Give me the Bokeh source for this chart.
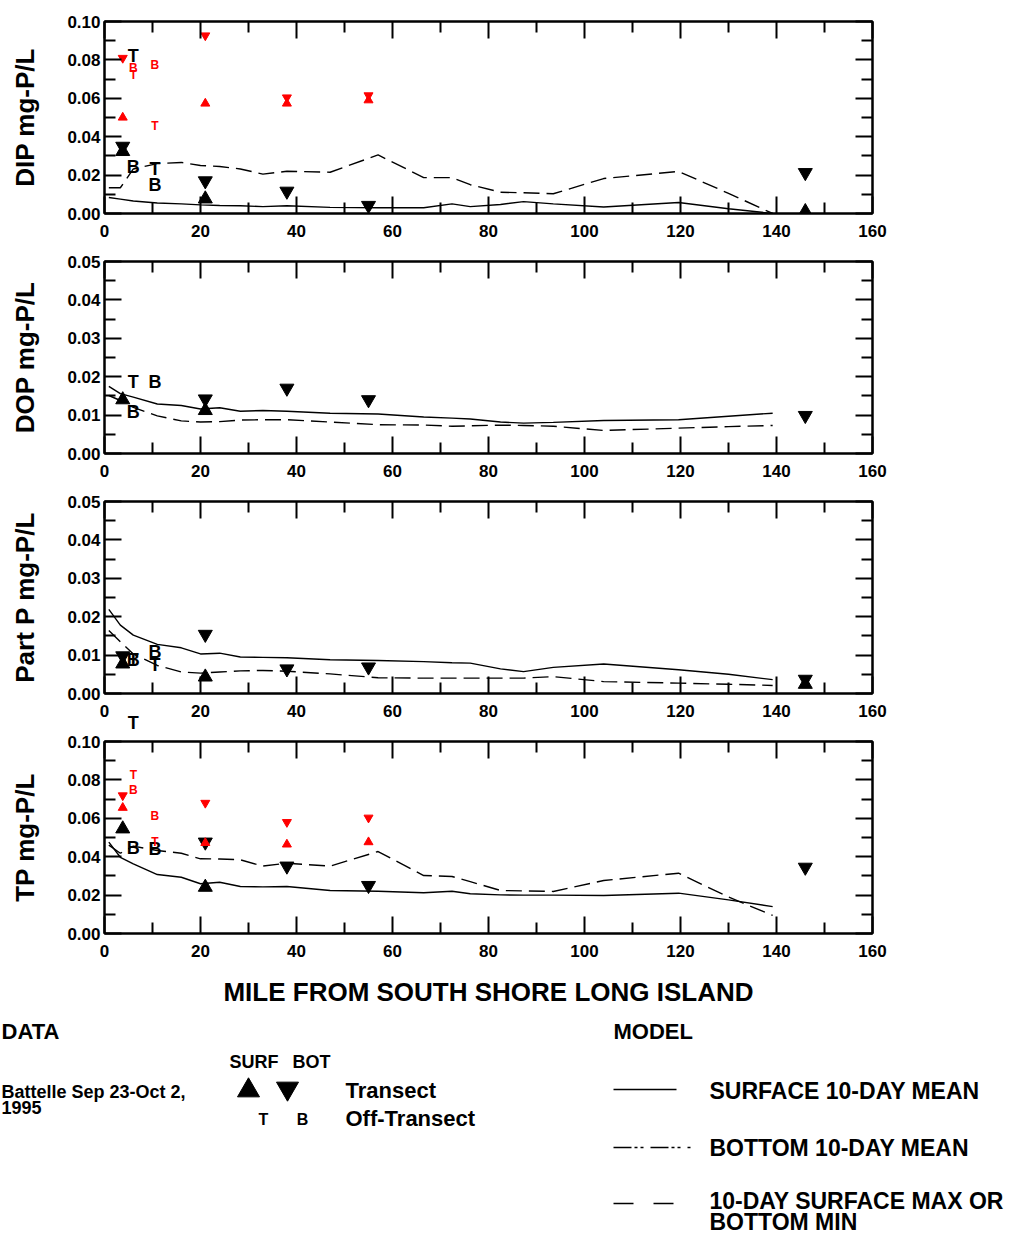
from bokeh.plotting import figure
from bokeh.models import Range1d, LinearAxis, FixedTicker, PrintfTickFormatter, ColumnDataSource, LabelSet
from bokeh.layouts import column
from bokeh.embed import file_html
from bokeh.resources import INLINE
from bokeh.core.properties import value

FONT = "Liberation Sans"

# ------------------------------------------------------------------ data
MILE_TICKS = [0, 20, 40, 60, 80, 100, 120, 140, 160]
MILE_MINOR = [10, 30, 50, 70, 90, 110, 130, 150]

MODEL_MILE = [0.9, 3.3, 6, 11, 16, 20, 24, 28.3, 33, 38, 47, 57, 66.5, 72.4, 76.2,
              82.5, 87.3, 93.5, 104, 119.6, 130, 139.2]

DIP_SURF_MEAN = [0.0083, 0.0075, 0.0065, 0.0055, 0.005, 0.0045, 0.0042, 0.004, 0.0036, 0.004, 0.0032,
                 0.003, 0.003, 0.005, 0.0036, 0.0047, 0.0062, 0.005, 0.0034, 0.0057, 0.0025, 0.0]
DIP_BOT_MEAN = [0.0134, 0.0134, 0.0232, 0.026, 0.0266, 0.025, 0.0245, 0.0232, 0.0205, 0.022, 0.0215,
                0.0305, 0.0187, 0.0187, 0.015, 0.0111, 0.0108, 0.0103, 0.0182, 0.0219, 0.0105, 0.0]
DOP_SURF_MEAN = [0.0175, 0.0156, 0.0147, 0.0129, 0.0125, 0.0116, 0.0119, 0.011, 0.0112, 0.011, 0.0105,
                 0.0103, 0.0095, 0.0092, 0.009, 0.0082, 0.0079, 0.0081, 0.0086, 0.0088, 0.0097, 0.0105]
DOP_BOT_MEAN = [0.0151, 0.0138, 0.012, 0.0098, 0.0085, 0.0082, 0.0083, 0.0087, 0.0088, 0.0088, 0.0082,
                0.0075, 0.0074, 0.0071, 0.0072, 0.0074, 0.0073, 0.0071, 0.006, 0.0066, 0.007, 0.0073]
PP_SURF_MEAN = [0.0219, 0.0178, 0.0152, 0.0128, 0.0119, 0.0103, 0.0105, 0.0095, 0.0094, 0.0093, 0.0088,
                0.0086, 0.0083, 0.008, 0.0079, 0.0064, 0.0057, 0.0068, 0.0077, 0.0062, 0.005, 0.0036]
PP_BOT_MEAN = [0.0164, 0.0135, 0.0103, 0.0073, 0.0056, 0.0053, 0.0056, 0.0059, 0.006, 0.0058, 0.0051,
               0.0041, 0.004, 0.004, 0.004, 0.004, 0.004, 0.0044, 0.0031, 0.0027, 0.0024, 0.0021]
TP_SURF_MEAN = [0.0476, 0.0397, 0.0363, 0.0307, 0.0293, 0.0259, 0.0267, 0.0245, 0.0243, 0.0245, 0.0224,
                0.022, 0.0212, 0.022, 0.0207, 0.0201, 0.02, 0.02, 0.0198, 0.021, 0.0175, 0.014]
TP_BOT_MEAN = [0.046, 0.0418, 0.0455, 0.0432, 0.0418, 0.0389, 0.0388, 0.0384, 0.0351, 0.0366, 0.0351,
               0.0427, 0.0302, 0.0297, 0.027, 0.0224, 0.0222, 0.0219, 0.0276, 0.0314, 0.019, 0.0094]

# observed, transect (black triangles) and off-transect (letters); red = second survey
DIP_UP_MILE = [3.8, 21, 146];            DIP_UP = [0.0323, 0.0076, 0.001]
DIP_DN_MILE = [3.8, 21, 38, 55, 146];    DIP_DN = [0.035, 0.017, 0.0116, 0.0042, 0.0213]
DIP_T_MILE = [6, 10.5];                  DIP_T = [0.082, 0.0234]
DIP_B_MILE = [6, 10.5];                  DIP_B = [0.024, 0.0146]
DIP_RED_MILE = [3.8, 21, 38, 55]
DIP_RED_UP = [0.050, 0.0573, 0.0573, 0.059]
DIP_RED_DN = [0.081, 0.0927, 0.0604, 0.0615]
DIP_RED_T_MILE = [6, 10.5];              DIP_RED_T = [0.072, 0.0458]
DIP_RED_B_MILE = [6, 10.5];              DIP_RED_B = [0.076, 0.0776]

DOP_UP_MILE = [3.8, 21];                 DOP_UP = [0.014, 0.0112]
DOP_DN_MILE = [21, 38, 55, 146];         DOP_DN = [0.0142, 0.017, 0.014, 0.0099]
DOP_T_MILE = [6];                        DOP_T = [0.0186]
DOP_B_MILE = [6, 10.5];                  DOP_B = [0.0108, 0.0186]

PP_UP_MILE = [3.8, 21, 146];             PP_UP = [0.0077, 0.0043, 0.0024]
PP_DN_MILE = [3.8, 21, 38, 55, 146];     PP_DN = [0.0098, 0.0154, 0.0064, 0.0069, 0.0037]
PP_T_MILE = [6, 10.5];                   PP_T = [0.0088, 0.0073]
PP_B_MILE = [6, 10.5];                   PP_B = [0.0088, 0.0108]

TP_UP_MILE = [3.8, 21];                  TP_UP = [0.0545, 0.0241]
TP_DN_MILE = [21, 38, 55, 146];          TP_DN = [0.0476, 0.0351, 0.025, 0.0345]
TP_T_MILE = [6];                         TP_T = [0.111]
TP_B_MILE = [6, 10.5];                   TP_B = [0.0444, 0.0441]
TP_RED_MILE = [3.8, 21, 38, 55]
TP_RED_UP = [0.0655, 0.0472, 0.0464, 0.0476]
TP_RED_DN = [0.0719, 0.068, 0.058, 0.0603]
TP_RED_T_MILE = [6, 10.5];               TP_RED_T = [0.0828, 0.0476]
TP_RED_B_MILE = [6, 10.5];               TP_RED_B = [0.0745, 0.061]

Y01_TICKS = [0, 0.02, 0.04, 0.06, 0.08, 0.10]
Y01_MINOR = [0.01, 0.03, 0.05, 0.07, 0.09]
Y005_TICKS = [0, 0.01, 0.02, 0.03, 0.04, 0.05]
Y005_MINOR = [0.005, 0.015, 0.025, 0.035, 0.045]

PANELS = [
    dict(label="DIP mg-P/L", ymax=0.10, ticks=Y01_TICKS, minor=Y01_MINOR,
         surf=DIP_SURF_MEAN, bot=DIP_BOT_MEAN,
         up=(DIP_UP_MILE, DIP_UP), dn=(DIP_DN_MILE, DIP_DN),
         T=(DIP_T_MILE, DIP_T), B=(DIP_B_MILE, DIP_B),
         rup=(DIP_RED_MILE, DIP_RED_UP), rdn=(DIP_RED_MILE, DIP_RED_DN),
         rT=(DIP_RED_T_MILE, DIP_RED_T), rB=(DIP_RED_B_MILE, DIP_RED_B)),
    dict(label="DOP mg-P/L", ymax=0.05, ticks=Y005_TICKS, minor=Y005_MINOR,
         surf=DOP_SURF_MEAN, bot=DOP_BOT_MEAN,
         up=(DOP_UP_MILE, DOP_UP), dn=(DOP_DN_MILE, DOP_DN),
         T=(DOP_T_MILE, DOP_T), B=(DOP_B_MILE, DOP_B)),
    dict(label="Part P mg-P/L", ymax=0.05, ticks=Y005_TICKS, minor=Y005_MINOR,
         surf=PP_SURF_MEAN, bot=PP_BOT_MEAN,
         up=(PP_UP_MILE, PP_UP), dn=(PP_DN_MILE, PP_DN),
         T=(PP_T_MILE, PP_T), B=(PP_B_MILE, PP_B)),
    dict(label="TP mg-P/L", ymax=0.10, ticks=Y01_TICKS, minor=Y01_MINOR,
         surf=TP_SURF_MEAN, bot=TP_BOT_MEAN,
         up=(TP_UP_MILE, TP_UP), dn=(TP_DN_MILE, TP_DN),
         T=(TP_T_MILE, TP_T), B=(TP_B_MILE, TP_B),
         rup=(TP_RED_MILE, TP_RED_UP), rdn=(TP_RED_MILE, TP_RED_DN),
         rT=(TP_RED_T_MILE, TP_RED_T), rB=(TP_RED_B_MILE, TP_RED_B)),
]

RED = "#ff0000"


def style_axis(ax, ticks, minor, labels=True):
    ax.ticker = FixedTicker(ticks=ticks, minor_ticks=minor)
    ax.major_tick_in = 17
    ax.major_tick_out = 0
    ax.minor_tick_in = 11
    ax.minor_tick_out = 0
    ax.major_tick_line_width = 2
    ax.minor_tick_line_width = 2
    ax.major_tick_line_color = "black"
    ax.minor_tick_line_color = "black"
    ax.axis_line_width = 2
    ax.axis_line_color = "black"
    ax.major_label_text_font = FONT
    ax.major_label_text_font_style = "bold"
    ax.major_label_text_color = "black"
    if labels:
        ax.major_label_text_font_size = "17px"
    else:
        ax.major_label_text_font_size = "1px"
        ax.major_label_text_alpha = 0
        ax.major_label_standoff = 0


def letters(p, xy, txt, color, size, ymax):
    xs, ys = xy
    inx = [x for x, y in zip(xs, ys) if y <= ymax]
    iny = [y for y in ys if y <= ymax]
    over = [x for x, y in zip(xs, ys) if y > ymax]
    if inx:
        src = ColumnDataSource(dict(x=inx, y=iny, t=[txt] * len(inx)))
        p.add_layout(LabelSet(x="x", y="y", text="t", source=src, text_align="center",
                              text_baseline="middle", text_font=value(FONT), text_font_style="bold",
                              text_font_size=size, text_color=color))
    if over:
        # off-scale values: shown just above the top of the frame at their mile position
        ax = LinearAxis(ticker=FixedTicker(ticks=over, minor_ticks=[]),
                        major_label_overrides={m: txt for m in over})
        ax.axis_line_color = None
        ax.major_tick_line_color = None
        ax.minor_tick_line_color = None
        ax.major_tick_in = 0
        ax.major_tick_out = 0
        ax.major_label_standoff = 9
        ax.major_label_text_font = FONT
        ax.major_label_text_font_style = "bold"
        ax.major_label_text_font_size = size
        ax.major_label_text_color = color
        p.add_layout(ax, "above")


def make_panel(spec, top, bottom, xlabel=None):
    p = figure(width=1009, height=top + 192 + bottom, x_range=Range1d(0, 160),
               y_range=Range1d(0, spec["ymax"]),
               output_backend="svg", toolbar_location=None,
               min_border_left=104, min_border_right=137, min_border_top=top, min_border_bottom=bottom)
    p.grid.visible = False
    p.outline_line_color = "black"
    p.outline_line_width = 2
    p.background_fill_color = "white"
    p.border_fill_color = None

    xa = p.xaxis[0]
    style_axis(xa, MILE_TICKS, MILE_MINOR)
    xa.major_label_standoff = 11
    ya = p.yaxis[0]
    style_axis(ya, spec["ticks"], spec["minor"])
    ya.formatter = PrintfTickFormatter(format="%.2f")
    ya.major_label_standoff = 4
    ya.axis_label = spec["label"]
    ya.axis_label_text_font = FONT
    ya.axis_label_text_font_style = "bold"
    ya.axis_label_text_font_size = "26px"
    ya.axis_label_text_color = "black"
    ya.axis_label_standoff = 24
    if xlabel:
        xa.axis_label = xlabel
        xa.axis_label_text_font = FONT
        xa.axis_label_text_font_style = "bold"
        xa.axis_label_text_font_size = "26px"
        xa.axis_label_text_color = "black"
        xa.axis_label_standoff = 17

    ta = LinearAxis()
    style_axis(ta, MILE_TICKS, MILE_MINOR, labels=False)
    p.add_layout(ta, "above")
    ra = LinearAxis()
    style_axis(ra, spec["ticks"], spec["minor"], labels=False)
    p.add_layout(ra, "right")

    p.line(MODEL_MILE, spec["surf"], line_color="black", line_width=1.4)
    p.line(MODEL_MILE, spec["bot"], line_color="black", line_width=1.4, line_dash="16 7")

    ymax = spec["ymax"]
    p.scatter(*spec["up"], marker="triangle", size=14, color="black")
    p.scatter(*spec["dn"], marker="inverted_triangle", size=14, color="black")
    letters(p, spec["T"], "T", "black", "18px", ymax)
    letters(p, spec["B"], "B", "black", "18px", ymax)
    if "rup" in spec:
        p.scatter(*spec["rup"], marker="triangle", size=9, color=RED)
        p.scatter(*spec["rdn"], marker="inverted_triangle", size=9, color=RED)
        letters(p, spec["rT"], "T", RED, "12px", ymax)
        letters(p, spec["rB"], "B", RED, "12px", ymax)
    return p


p1 = make_panel(PANELS[0], 21, 35)
p2 = make_panel(PANELS[1], 13, 35)
p3 = make_panel(PANELS[2], 13, 35)
p4 = make_panel(PANELS[3], 35, 77, xlabel="MILE FROM SOUTH SHORE LONG ISLAND")
# the TP panel overlaps the panel above by 22 px (transparent borders) so that
# the off-scale TP value above its frame is visible
p4.styles = {"margin-top": "-22px", "z-index": "2"}
p3.styles = {"z-index": "1"}

# ------------------------------------------------------------------ legend block
leg = figure(width=1009, height=224, x_range=Range1d(0, 1009), y_range=Range1d(224, 0),
             output_backend="svg", toolbar_location=None,
             x_axis_location=None, y_axis_location=None,
             min_border_left=0, min_border_right=0, min_border_top=0, min_border_bottom=0)
leg.grid.visible = False
leg.outline_line_color = None


def ltext(x, y, s, size, align="left"):
    leg.text([x], [y], text=[s], text_font=value(FONT), text_font_style="bold",
             text_font_size=size, text_align=align, text_baseline="middle", text_color="black")


ltext(1, 21, "DATA", "22px")
ltext(1, 81, "Battelle Sep 23-Oct 2,", "18px")
ltext(1, 97, "1995", "18px")
ltext(229, 51, "SURF", "18px")
ltext(292, 51, "BOT", "18px")
leg.scatter([248], [80], marker="triangle", size=22, color="black")
leg.scatter([287], [78], marker="inverted_triangle", size=22, color="black")
ltext(345, 80, "Transect", "22px")
ltext(263, 109, "T", "16px", "center")
ltext(302, 109, "B", "16px", "center")
ltext(345, 108, "Off-Transect", "22px")

ltext(613, 21, "MODEL", "22px")
leg.line([613, 676], [79, 79], line_color="black", line_width=1.4)
ltext(709, 80, "SURFACE 10-DAY MEAN", "23px")
leg.line([613, 690], [137, 137], line_color="black", line_width=1.4, line_dash="18 3 3 3 3 7")
ltext(709, 137, "BOTTOM 10-DAY MEAN", "23px")
leg.line([613, 673], [193, 193], line_color="black", line_width=1.4, line_dash="20 20")
ltext(709, 190, "10-DAY SURFACE MAX OR", "23px")
ltext(709, 211, "BOTTOM MIN", "23px")

layout = column(column(p1, p2, p3, p4), leg)
open("out.html", "w").write(file_html(layout, INLINE))
